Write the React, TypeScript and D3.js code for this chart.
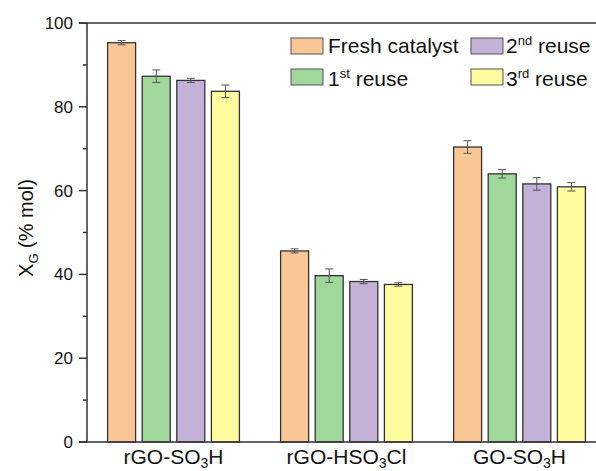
import React from "react";
import * as d3 from "d3";

const categories = ["rGO-SO3H", "rGO-HSO3Cl", "GO-SO3H"];
const seriesNames = ["Fresh catalyst", "1st reuse", "2nd reuse", "3rd reuse"];
const fresh = [95.3, 45.6, 70.4];
const reuse1 = [87.3, 39.7, 64.0];
const reuse2 = [86.3, 38.3, 61.6];
const reuse3 = [83.7, 37.6, 60.9];
const err0 = [0.5, 0.5, 1.5];
const err1 = [1.5, 1.6, 1.0];
const err2 = [0.5, 0.5, 1.5];
const err3 = [1.5, 0.4, 1.0];
const yTicks = [0, 20, 40, 60, 80, 100];
const yMinor = [10, 30, 50, 70, 90];

const colors = ["#F9C795", "#A0D89B", "#C3B1D7", "#FFFCA0"];

export default function App() {
  const W = 596, H = 471;
  const left = 87, top = 23, bottom = 442;
  const x = d3.scaleLinear().domain([0.5, 3.5]).range([left, 606]);
  const y = d3.scaleLinear().domain([0, 100]).range([bottom, top]);
  const values = [fresh, reuse1, reuse2, reuse3];
  const errs = [err0, err1, err2, err3];
  const step = 34.6;
  const bw = 28;
  const font = "Arial, 'Liberation Sans', sans-serif";
  const axisColor = "#333";

  const legendItems = [
    { sw: 291, sy: 38, tx: 328, ty: 53, main: seriesNames[0], sup: "", rest: "", c: colors[0] },
    { sw: 291, sy: 69, tx: 328, ty: 86, main: "1", sup: "st", rest: " reuse", c: colors[1] },
    { sw: 471, sy: 38, tx: 506, ty: 53, main: "2", sup: "nd", rest: " reuse", c: colors[2] },
    { sw: 471, sy: 69, tx: 506, ty: 86, main: "3", sup: "rd", rest: " reuse", c: colors[3] },
  ];

  const catLabel = (i: number) => {
    if (i === 0) return [["rGO-SO", false], ["3", true], ["H", false]];
    if (i === 1) return [["rGO-HSO", false], ["3", true], ["Cl", false]];
    return [["GO-SO", false], ["3", true], ["H", false]];
  };

  return (
    <svg width={W} height={H} style={{ position: "absolute", left: 0, top: 0, background: "#fff" }} fontFamily={font}>
      <rect x={0} y={0} width={W} height={H} fill="#fff" />
      {values.map((vals, s) =>
        vals.map((v, i) => {
          const cx = x(i + 1) + (s - 1.5) * step;
          const e = errs[s][i];
          return (
            <g key={`${s}-${i}`}>
              <rect x={cx - bw / 2} y={y(v)} width={bw} height={bottom - y(v)} fill={colors[s]} stroke="#333" strokeWidth={1.3} />
              <line x1={cx} x2={cx} y1={y(v + e)} y2={y(v - e)} stroke="#555" strokeWidth={1} />
              <line x1={cx - 4} x2={cx + 4} y1={y(v + e)} y2={y(v + e)} stroke="#555" strokeWidth={1} />
              <line x1={cx - 4} x2={cx + 4} y1={y(v - e)} y2={y(v - e)} stroke="#555" strokeWidth={1} />
            </g>
          );
        })
      )}
      <line x1={left} x2={left} y1={top} y2={bottom} stroke={axisColor} strokeWidth={1.5} />
      <line x1={left - 8} x2={W} y1={bottom} y2={bottom} stroke={axisColor} strokeWidth={1.5} />
      <line x1={left - 8} x2={W} y1={top} y2={top} stroke={axisColor} strokeWidth={1.5} />
      {yTicks.map((t) => (
        <g key={t}>
          <line x1={left - 8} x2={left} y1={y(t)} y2={y(t)} stroke={axisColor} strokeWidth={1.5} />
          <text x={left - 14} y={y(t) + 6} textAnchor="end" fontSize={17} fill="#111">{t}</text>
        </g>
      ))}
      {yMinor.map((t) => (
        <line key={t} x1={left - 4} x2={left} y1={y(t)} y2={y(t)} stroke={axisColor} strokeWidth={1.5} />
      ))}
      {categories.map((c, i) => (
        <text key={c} x={x(i + 1)} y={464} textAnchor="middle" fontSize={21} fill="#111">
          {catLabel(i).map(([t, sub], k) =>
            sub ? (
              <tspan key={k} fontSize={14} dy={4}>{t as string}</tspan>
            ) : (
              <tspan key={k} dy={k > 0 ? -4 : 0}>{t as string}</tspan>
            )
          )}
        </text>
      ))}
      <text transform={`translate(33,228) rotate(-90)`} textAnchor="middle" fontSize={20} fill="#111">
        <tspan>X</tspan>
        <tspan fontSize={13} dy={5}>G</tspan>
        <tspan dy={-5}> (% mol)</tspan>
      </text>
      {legendItems.map((l, k) => (
        <g key={k}>
          <rect x={l.sw} y={l.sy} width={32} height={16} fill={l.c} stroke="#555" strokeWidth={1} />
          <text x={l.tx} y={l.ty} fontSize={21} fill="#111">
            <tspan>{l.main}</tspan>
            {l.sup && <tspan fontSize={13} dy={-8}>{l.sup}</tspan>}
            {l.rest && <tspan dy={l.sup ? 8 : 0}>{l.rest}</tspan>}
          </text>
        </g>
      ))}
    </svg>
  );
}
